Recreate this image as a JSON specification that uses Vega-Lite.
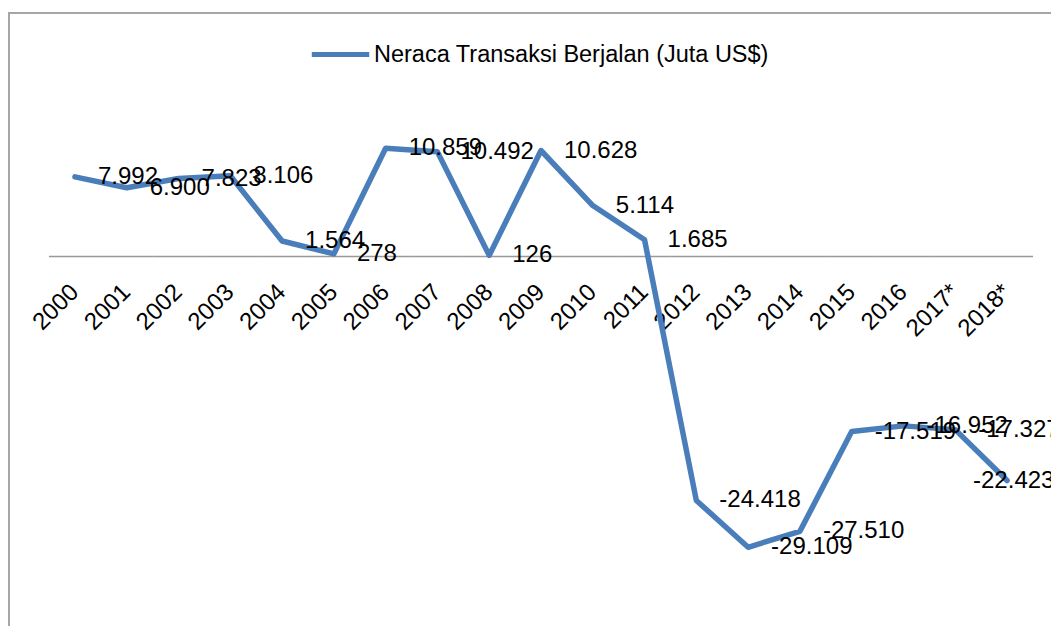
{
  "$schema": "https://vega.github.io/schema/vega-lite/v6.json",
  "width": 1064,
  "height": 643,
  "padding": {"left": 9, "top": 13, "right": 0, "bottom": 0},
  "autosize": {"type": "pad"},
  "background": "white",
  "config": {
    "view": {"stroke": "#a6a6a6", "strokeWidth": 2},
    "font": "Liberation Sans",
    "locale": {
      "number": {"decimal": ",", "thousands": ".", "grouping": [3], "currency": ["$", ""], "minus": "-"},
      "time": {
        "dateTime": "%A, %e %B %Y %X",
        "date": "%d/%m/%Y",
        "time": "%H:%M:%S",
        "periods": ["AM", "PM"],
        "days": ["Minggu", "Senin", "Selasa", "Rabu", "Kamis", "Jumat", "Sabtu"],
        "shortDays": ["Min", "Sen", "Sel", "Rab", "Kam", "Jum", "Sab"],
        "months": ["Januari", "Februari", "Maret", "April", "Mei", "Juni", "Juli", "Agustus", "September", "Oktober", "November", "Desember"],
        "shortMonths": ["Jan", "Feb", "Mar", "Apr", "Mei", "Jun", "Jul", "Agu", "Sep", "Okt", "Nov", "Des"]
      }
    }
  },
  "data": {
    "values": [
      {"year": "2000", "value": 7992, "series": "Neraca Transaksi Berjalan (Juta US$)"},
      {"year": "2001", "value": 6900, "series": "Neraca Transaksi Berjalan (Juta US$)"},
      {"year": "2002", "value": 7823, "series": "Neraca Transaksi Berjalan (Juta US$)"},
      {"year": "2003", "value": 8106, "series": "Neraca Transaksi Berjalan (Juta US$)"},
      {"year": "2004", "value": 1564, "series": "Neraca Transaksi Berjalan (Juta US$)"},
      {"year": "2005", "value": 278, "series": "Neraca Transaksi Berjalan (Juta US$)"},
      {"year": "2006", "value": 10859, "series": "Neraca Transaksi Berjalan (Juta US$)"},
      {"year": "2007", "value": 10492, "series": "Neraca Transaksi Berjalan (Juta US$)"},
      {"year": "2008", "value": 126, "series": "Neraca Transaksi Berjalan (Juta US$)"},
      {"year": "2009", "value": 10628, "series": "Neraca Transaksi Berjalan (Juta US$)"},
      {"year": "2010", "value": 5114, "series": "Neraca Transaksi Berjalan (Juta US$)"},
      {"year": "2011", "value": 1685, "series": "Neraca Transaksi Berjalan (Juta US$)"},
      {"year": "2012", "value": -24418, "series": "Neraca Transaksi Berjalan (Juta US$)"},
      {"year": "2013", "value": -29109, "series": "Neraca Transaksi Berjalan (Juta US$)"},
      {"year": "2014", "value": -27510, "series": "Neraca Transaksi Berjalan (Juta US$)"},
      {"year": "2015", "value": -17519, "series": "Neraca Transaksi Berjalan (Juta US$)"},
      {"year": "2016", "value": -16952, "series": "Neraca Transaksi Berjalan (Juta US$)"},
      {"year": "2017*", "value": -17327, "series": "Neraca Transaksi Berjalan (Juta US$)"},
      {"year": "2018*", "value": -22423, "series": "Neraca Transaksi Berjalan (Juta US$)"}
    ]
  },
  "layer": [
    {
      "mark": {"type": "tick", "orient": "horizontal", "thickness": 1.5, "size": 52, "color": "#999999", "opacity": 1},
      "encoding": {
        "x": {
          "field": "year",
          "type": "ordinal",
          "sort": null,
          "scale": {"type": "band", "paddingInner": 0, "paddingOuter": 0.774},
          "axis": {
            "orient": "bottom",
            "offset": -399,
            "title": null,
            "domain": false,
            "ticks": false,
            "tickSize": 0,
            "grid": false,
            "labelAngle": -45,
            "labelAlign": "right",
            "labelBaseline": "middle",
            "labelPadding": 31,
            "labelFontSize": 24,
            "labelColor": "#000000",
            "labelOverlap": false,
            "labelLimit": 0
          }
        },
        "y": {
          "datum": 0,
          "scale": {"domain": [-40000, 24400], "nice": false, "zero": false},
          "axis": null
        }
      }
    },
    {
      "mark": {"type": "line", "strokeWidth": 5.5, "strokeJoin": "round", "strokeCap": "round"},
      "encoding": {
        "x": {"field": "year", "type": "ordinal", "sort": null},
        "y": {"field": "value", "type": "quantitative"},
        "color": {
          "field": "series",
          "type": "nominal",
          "scale": {"range": ["#4A7EBB"]},
          "legend": {
            "orient": "none",
            "legendX": 300,
            "legendY": 10,
            "title": null,
            "direction": "horizontal",
            "symbolType": "stroke",
            "symbolStrokeWidth": 5,
            "symbolSize": 3300,
            "labelFontSize": 23.5,
            "labelColor": "#000000",
            "labelOffset": 2,
            "labelLimit": 0
          }
        }
      }
    },
    {
      "transform": [{"filter": "datum.year != '2018*'"}],
      "mark": {"type": "text", "align": "left", "baseline": "middle", "dx": 23, "fontSize": 24, "color": "#000000"},
      "encoding": {
        "x": {"field": "year", "type": "ordinal", "sort": null},
        "y": {"field": "value", "type": "quantitative"},
        "text": {"field": "value", "type": "quantitative", "format": ",d"}
      }
    },
    {
      "transform": [{"filter": "datum.year == '2018*'"}],
      "mark": {"type": "text", "align": "left", "baseline": "middle", "dx": -34, "fontSize": 24, "color": "#000000"},
      "encoding": {
        "x": {"field": "year", "type": "ordinal", "sort": null},
        "y": {"field": "value", "type": "quantitative"},
        "text": {"field": "value", "type": "quantitative", "format": ",d"}
      }
    }
  ]
}
